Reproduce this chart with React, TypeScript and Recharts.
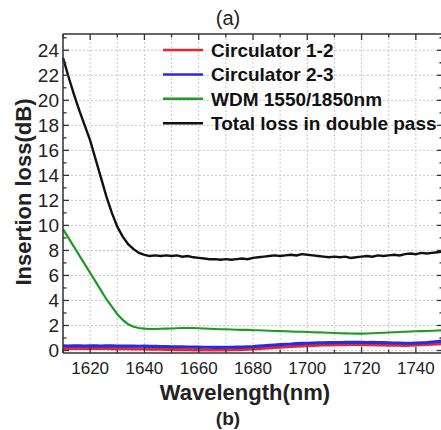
import { LineChart, Line, XAxis, YAxis, CartesianGrid, Legend, Label } from 'recharts';

// wavelength in nm, 2 nm steps
const wavelength = [
  1610, 1612, 1614, 1616, 1618, 1620, 1622, 1624, 1626, 1628,
  1630, 1632, 1634, 1636, 1638, 1640, 1642, 1644, 1646, 1648,
  1650, 1652, 1654, 1656, 1658, 1660, 1662, 1664, 1666, 1668,
  1670, 1672, 1674, 1676, 1678, 1680, 1682, 1684, 1686, 1688,
  1690, 1692, 1694, 1696, 1698, 1700, 1702, 1704, 1706, 1708,
  1710, 1712, 1714, 1716, 1718, 1720, 1722, 1724, 1726, 1728,
  1730, 1732, 1734, 1736, 1738, 1740, 1742, 1744, 1746, 1748,
  1750,
];

const circ12 = [
  0.18, 0.17, 0.18, 0.16, 0.17, 0.16, 0.17, 0.16, 0.16, 0.15,
  0.15, 0.14, 0.14, 0.13, 0.12, 0.12, 0.11, 0.1, 0.1, 0.09,
  0.08, 0.07, 0.06, 0.06, 0.05, 0.05, 0.04, 0.04, 0.04, 0.05,
  0.05, 0.06, 0.07, 0.08, 0.1, 0.12, 0.15, 0.18, 0.21, 0.24,
  0.27, 0.3, 0.32, 0.35, 0.37, 0.39, 0.41, 0.43, 0.44, 0.45,
  0.46, 0.47, 0.47, 0.48, 0.48, 0.47, 0.46, 0.46, 0.45, 0.44,
  0.43, 0.42, 0.42, 0.41, 0.42, 0.44, 0.46, 0.48, 0.5, 0.53,
  0.56,
];

const circ23 = [
  0.38, 0.36, 0.38, 0.37, 0.36, 0.38, 0.37, 0.36, 0.38, 0.37,
  0.36, 0.35, 0.36, 0.35, 0.34, 0.35, 0.33, 0.34, 0.32, 0.32,
  0.3, 0.3, 0.29, 0.28, 0.28, 0.27, 0.26, 0.26, 0.25, 0.25,
  0.26, 0.26, 0.27, 0.28, 0.3, 0.32, 0.35, 0.38, 0.41, 0.44,
  0.47, 0.5, 0.52, 0.55, 0.57, 0.58, 0.6, 0.62, 0.62, 0.63,
  0.64, 0.64, 0.65, 0.65, 0.66, 0.65, 0.64, 0.65, 0.64, 0.63,
  0.62, 0.6, 0.6, 0.58, 0.58, 0.6, 0.62, 0.64, 0.68, 0.72,
  0.76,
];

const wdm = [
  9.7, 9.0, 8.3, 7.6, 6.9, 6.2, 5.5, 4.8, 4.1, 3.5,
  2.9, 2.45, 2.1, 1.9, 1.8, 1.75, 1.72, 1.72, 1.74, 1.75,
  1.76, 1.78, 1.8, 1.8, 1.8, 1.78, 1.76, 1.74, 1.72, 1.7,
  1.7, 1.68, 1.66, 1.65, 1.65, 1.63, 1.62, 1.6, 1.58, 1.56,
  1.55, 1.54, 1.52, 1.5, 1.5, 1.48, 1.46, 1.45, 1.44, 1.42,
  1.4, 1.38, 1.37, 1.36, 1.35, 1.35, 1.36, 1.38, 1.4, 1.42,
  1.44, 1.46, 1.48, 1.5, 1.52, 1.54, 1.55, 1.56, 1.58, 1.6,
  1.62,
];

const total = [
  23.4, 21.9, 20.5, 19.2, 18.0, 16.8, 15.3, 13.8, 12.3, 11.0,
  9.9, 9.1, 8.5, 8.1, 7.8, 7.65, 7.55, 7.6, 7.55, 7.6,
  7.55, 7.6, 7.5, 7.55, 7.45, 7.4, 7.35, 7.3, 7.3, 7.25,
  7.3, 7.25, 7.3, 7.35, 7.3, 7.4, 7.45, 7.5, 7.55, 7.6,
  7.55, 7.6, 7.65, 7.6, 7.7, 7.65, 7.6, 7.55, 7.5, 7.45,
  7.5, 7.45, 7.5, 7.4, 7.45, 7.5, 7.55, 7.5, 7.6, 7.55,
  7.6, 7.65, 7.6, 7.7, 7.75, 7.7, 7.8, 7.75, 7.8, 7.85,
  7.9,
];

const xTicks = [1610, 1620, 1630, 1640, 1650, 1660, 1670, 1680, 1690, 1700, 1710, 1720, 1730, 1740, 1750];
const xLabelled = [1620, 1640, 1660, 1680, 1700, 1720, 1740];
const yTicks = [0, 1, 2, 3, 4, 5, 6, 7, 8, 9, 10, 11, 12, 13, 14, 15, 16, 17, 18, 19, 20, 21, 22, 23, 24, 25];
const yLabelled = [0, 2, 4, 6, 8, 10, 12, 14, 16, 18, 20, 22, 24];

const series = [
  { key: 'circ12', name: 'Circulator 1-2', color: '#e8262b', width: 3.2 },
  { key: 'circ23', name: 'Circulator 2-3', color: '#2a2ae6', width: 3.2 },
  { key: 'wdm', name: 'WDM 1550/1850nm', color: '#1f9a24', width: 2.2 },
  { key: 'total', name: 'Total loss in double pass', color: '#111111', width: 2.4 },
];

const data = wavelength.map((wl, i) => ({
  wl,
  circ12: circ12[i],
  circ23: circ23[i],
  wdm: wdm[i],
  total: total[i],
}));

const FONT = '"Liberation Sans", Arial, sans-serif';
const AXIS = '#333';

const BottomTick = ({ x, y, payload }: any) => {
  const major = xLabelled.includes(payload.value);
  return (
    <g>
      <line x1={x} x2={x} y1={y} y2={y - (major ? 6 : 3.5)} stroke={AXIS} strokeWidth={1.3} />
      {major && (
        <text x={x} y={y + 21} textAnchor="middle" fontSize={17} fill="#222" fontFamily={FONT}>
          {payload.value}
        </text>
      )}
    </g>
  );
};

const TopTick = ({ x, y, payload }: any) => {
  const major = xLabelled.includes(payload.value);
  return <line x1={x} x2={x} y1={y} y2={y + (major ? 6 : 3.5)} stroke={AXIS} strokeWidth={1.3} />;
};

const LeftTick = ({ x, y, payload }: any) => {
  const major = yLabelled.includes(payload.value);
  return (
    <g>
      <line x1={x} x2={x + (major ? 6 : 3.5)} y1={y} y2={y} stroke={AXIS} strokeWidth={1.3} />
      {major && (
        <text x={x - 4} y={y + 6.5} textAnchor="end" fontSize={19} fill="#222" fontFamily={FONT}>
          {payload.value}
        </text>
      )}
    </g>
  );
};

const RightTick = ({ x, y, payload }: any) => {
  const major = yLabelled.includes(payload.value);
  return <line x1={x} x2={x - (major ? 6 : 3.5)} y1={y} y2={y} stroke={AXIS} strokeWidth={1.3} />;
};

const LegendBox = () => (
  <svg width={290} height={100} style={{ display: 'block', overflow: 'visible' }}>
    {series.map((s, i) => (
      <g key={s.key}>
        <line x1={3} x2={43} y1={12 + i * 24.4} y2={12 + i * 24.4} stroke={s.color} strokeWidth={2.5} />
        <text x={51} y={12 + i * 24.4 + 7} fontSize={19} fontWeight="bold" fill="#111" fontFamily={FONT}>
          {s.name}
        </text>
      </g>
    ))}
  </svg>
);

export default function App() {
  return (
    <div style={{ position: 'absolute', left: 0, top: 0, width: 441, height: 430, overflow: 'hidden', background: '#fff' }}>
      <LineChart width={446} height={430} data={data} margin={{ top: 0, right: 0, bottom: 0, left: 0 }}>
        <CartesianGrid
          verticalValues={xTicks}
          horizontalValues={yLabelled}
          stroke="#c9c9c9"
          strokeDasharray="2 2"
        />
        <XAxis
          dataKey="wl"
          type="number"
          domain={[1610, 1750]}
          ticks={xTicks}
          height={77}
          tickSize={0}
          tickMargin={0}
          tickLine={false}
          tick={<BottomTick />}
          axisLine={{ stroke: AXIS, strokeWidth: 1.5 }}
          interval={0}
        >
          <Label
            content={() => (
              <text x={245} y={400} textAnchor="middle" fontSize={22} fontWeight="bold" fill="#222" fontFamily={FONT}>
                Wavelength(nm)
              </text>
            )}
          />
        </XAxis>
        <XAxis
          xAxisId="top"
          orientation="top"
          dataKey="wl"
          type="number"
          domain={[1610, 1750]}
          ticks={xTicks}
          height={34}
          tickSize={0}
          tickMargin={0}
          tickLine={false}
          tick={<TopTick />}
          axisLine={{ stroke: AXIS, strokeWidth: 1.5 }}
          interval={0}
        >
          <Label
            content={() => (
              <text x={228} y={25} textAnchor="middle" fontSize={20} fill="#222" fontFamily={FONT}>
                (a)
              </text>
            )}
          />
        </XAxis>
        <YAxis
          type="number"
          domain={[-0.2, 25.3]}
          ticks={yTicks}
          width={63}
          tickSize={0}
          tickMargin={0}
          tickLine={false}
          tick={<LeftTick />}
          axisLine={{ stroke: AXIS, strokeWidth: 1.5 }}
          interval={0}
          allowDataOverflow
        >
          <Label
            content={() => (
              <text
                x={31}
                y={192}
                transform="rotate(-90 31 192)"
                textAnchor="middle"
                fontSize={22}
                fontWeight="bold"
                fill="#222"
                fontFamily={FONT}
              >
                Insertion loss(dB)
              </text>
            )}
          />
        </YAxis>
        <YAxis
          yAxisId="right"
          orientation="right"
          type="number"
          domain={[-0.2, 25.3]}
          ticks={yTicks}
          width={3}
          tickSize={0}
          tickMargin={0}
          tickLine={false}
          tick={<RightTick />}
          axisLine={{ stroke: AXIS, strokeWidth: 1.5 }}
          interval={0}
          allowDataOverflow
        >
          <Label
            content={() => (
              <text x={228} y={425} textAnchor="middle" fontSize={19} fontWeight="bold" fill="#222" fontFamily={FONT}>
                (b)
              </text>
            )}
          />
        </YAxis>
        <Legend
          layout="vertical"
          align="center"
          verticalAlign="middle"
          content={() => <LegendBox />}
          wrapperStyle={{ position: 'absolute', left: 160, top: 38, width: 290, height: 100 }}
        />
        {series.map((s) => (
          <Line
            key={s.key}
            type="linear"
            dataKey={s.key}
            name={s.name}
            stroke={s.color}
            strokeWidth={s.width}
            dot={false}
            isAnimationActive={false}
          />
        ))}
      </LineChart>
    </div>
  );
}
